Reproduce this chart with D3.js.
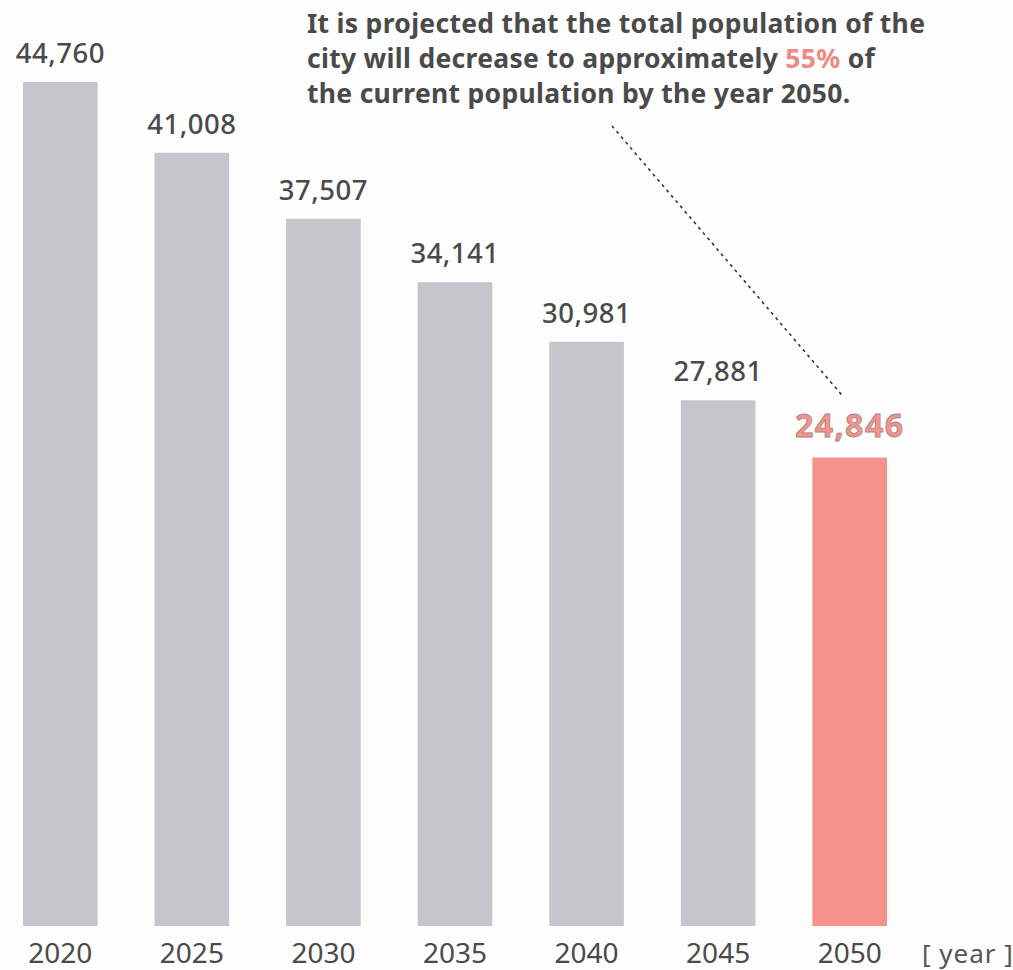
<!DOCTYPE html>
<html>
<head>
<meta charset="utf-8">
<script src="https://cdn.jsdelivr.net/npm/d3@7"></script>
<style>
  body { margin: 0; background: #fdfdfd; }
  svg { display: block; }
</style>
</head>
<body>
<div id="chart"></div>
<script>
// chart data
var years = ["2020", "2025", "2030", "2035", "2040", "2045", "2050"];
var population = [44760, 41008, 37507, 34141, 30981, 27881, 24846];
var highlightYear = "2050";
var noteLines = [
    ["It is projected that the total population of the"],
    ["city will decrease to approximately ", "55%", " of"],
    ["the current population by the year 2050."]
];

var width = 1013, height = 970;
var grey = "#c5c6cc", red = "#f7928b", textColor = "#4a4a4a";
var font = "'Noto Sans', sans-serif";

var data = years.map((y, i) => ({year: y, value: population[i]}));

var svg = d3.select("#chart").append("svg")
    .attr("width", width)
    .attr("height", height)
    .style("font-family", font);

// scales
var x = d3.scaleBand()
    .domain(years)
    .range([23, 887])
    .paddingInner(0.433)
    .paddingOuter(0);

var y = d3.scaleLinear()
    .domain([0, d3.max(population)])
    .range([926, 82]);

// bars
svg.append("g")
    .selectAll("rect")
    .data(data)
    .enter().append("rect")
    .attr("x", d => x(d.year))
    .attr("y", d => y(d.value))
    .attr("width", x.bandwidth())
    .attr("height", d => y(0) - y(d.value))
    .attr("fill", d => d.year == highlightYear ? red : grey);

// value labels
svg.append("g")
    .selectAll("text")
    .data(data)
    .enter().append("text")
    .attr("x", d => x(d.year) + x.bandwidth() / 2)
    .attr("y", d => y(d.value) - (d.year == highlightYear ? 21 : 19))
    .attr("text-anchor", "middle")
    .style("font-size", d => d.year == highlightYear ? "32px" : "27.5px")
    .style("font-weight", d => d.year == highlightYear ? "bold" : "500")
    .style("fill", d => d.year == highlightYear ? red : textColor)
    .style("stroke", d => d.year == highlightYear ? "#9a8a8a" : "none")
    .style("stroke-width", 0.8)
    .style("letter-spacing", d => d.year == highlightYear ? "1.5px" : "0.5px")
    .text(d => d3.format(",")(d.value));

// year axis
var xAxis = svg.append("g")
    .attr("transform", "translate(0," + y(0) + ")")
    .call(d3.axisBottom(x).tickSize(0).tickPadding(17));
xAxis.select(".domain").remove();
xAxis.selectAll("text")
    .style("font-family", font)
    .style("font-size", "28px")
    .style("fill", textColor);

svg.append("text")
    .attr("x", 922)
    .attr("y", 963)
    .style("font-size", "26px")
    .style("letter-spacing", "1px")
    .style("fill", "#555")
    .text("[ year ]");

// annotation
var note = svg.append("text")
    .attr("x", 307)
    .attr("y", 33)
    .style("font-size", "26.5px")
    .style("font-weight", "bold")
    .style("letter-spacing", "0.3px")
    .style("fill", textColor);

noteLines.forEach((parts, i) => {
    parts.forEach((p, j) => {
        var t = note.append("tspan").text(p);
        if (j == 0) t.attr("x", 307).attr("dy", i == 0 ? 0 : 35);
        if (p == "55%") t.style("fill", "#ec8a86");
    });
});

var hx = x(highlightYear) + x.bandwidth() * 0.4;
svg.append("line")
    .attr("x1", 612)
    .attr("y1", 126)
    .attr("x2", hx)
    .attr("y2", y(population[years.indexOf(highlightYear)]) - 62)
    .attr("stroke", "#333")
    .attr("stroke-width", 1.6)
    .attr("stroke-dasharray", "3,4");
</script>
</body>
</html>
